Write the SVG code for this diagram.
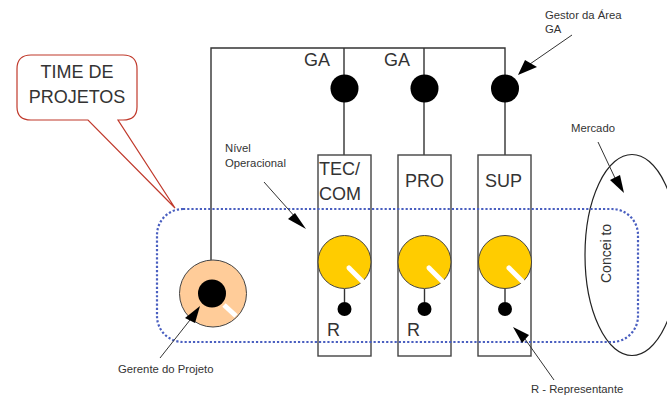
<svg xmlns="http://www.w3.org/2000/svg" width="667" height="405" viewBox="0 0 667 405">
<style>
text{font-family:"Liberation Sans",Arial,sans-serif;fill:#333}
.lg{font-size:18px}
.sm{font-size:11.300px}
.ln{fill:none;stroke:#333;stroke-width:1.400}
.ar{fill:none;stroke:#333;stroke-width:1}
.box{fill:#fff;stroke:#444;stroke-width:1.400}
.y{fill:#fc0;stroke:#444;stroke-width:1}
.k{fill:#000}
.tick{stroke:#fff;stroke-width:5;stroke-linecap:round}
.h{fill:#000}
</style>
<rect width="667" height="405" fill="#fff"/>
<g id="connectors">
<path class="ln" d="M211 260V48H505V155M344 48V155M424 48V155"/>
</g>
<g id="mercado"><ellipse cx="632" cy="255" rx="47" ry="100.500" fill="none" stroke="#222" stroke-width="1.200"/><text style="font-size:14px" transform="translate(611 283) rotate(-90)">Concei to</text></g>
<g id="tec"><rect class="box" x="318" y="155" width="53" height="201"/><text class="lg" x="319" y="175">TEC/</text><text class="lg" x="319" y="200">COM</text><path class="ln" d="M344.500 289V302"/><circle class="y" cx="344.500" cy="262" r="26.500"/><path class="tick" d="M349 268L362 281"/><circle class="k" cx="344.500" cy="309" r="7"/><text class="lg" x="327" y="336">R</text></g>
<g id="pro"><rect class="box" x="398" y="155" width="53" height="201"/><text class="lg" x="405" y="187">PRO</text><path class="ln" d="M424.500 289V302"/><circle class="y" cx="424.500" cy="262" r="26.500"/><path class="tick" d="M429 268L442 281"/><circle class="k" cx="424.500" cy="309" r="7"/><text class="lg" x="407" y="336">R</text></g>
<g id="sup"><rect class="box" x="478" y="155" width="53" height="201"/><text class="lg" x="485" y="187">SUP</text><path class="ln" d="M505 289V302"/><circle class="y" cx="505" cy="262" r="26.500"/><path class="tick" d="M509 268L522 281"/><circle class="k" cx="505" cy="309" r="7"/></g>
<g id="ga1"><circle class="k" cx="344.500" cy="88.500" r="14"/><text class="lg" x="304" y="66">GA</text></g>
<g id="ga2"><circle class="k" cx="424.500" cy="88.500" r="14"/><text class="lg" x="384" y="66">GA</text></g>
<g id="ga3"><circle class="k" cx="505" cy="88.500" r="14"/></g>
<g id="gerente"><circle cx="213" cy="293.500" r="33.500" fill="#fc9" stroke="#444" stroke-width="1"/><path d="M224 305L236 316" stroke="#fff" stroke-width="5"/><circle class="k" cx="212" cy="293.500" r="14"/></g>
<g id="time"><path d="M31 55H123Q137 55 137 69V107Q137 120 123 120H118L175 208L88 120H31Q17 120 17 107V69Q17 55 31 55Z" fill="#fff" stroke="#c0392b" stroke-width="1.200"/><text class="lg" x="77" y="78" text-anchor="middle">TIME DE</text><text class="lg" x="77" y="103" text-anchor="middle">PROJETOS</text></g>
<g id="nivel"><rect x="157" y="209" width="481" height="133" rx="26" ry="26" fill="none" stroke="#4a5fc0" stroke-width="2.200" stroke-dasharray="2.200 2"/></g>
<g id="annotations">
<text class="sm" x="225" y="152">Nível</text><text class="sm" x="225" y="167">Operacional</text>
<path class="ar" d="M264 182L296 218"/><path class="h" d="M306 229L288 219L295 213Z"/>
<text class="sm" x="545" y="19">Gestor da Área</text><text class="sm" x="545" y="33">GA</text>
<path class="ar" d="M572 35L530 64"/><path class="h" d="M518 75L525 60L537 67Z"/>
<text class="sm" x="571" y="132">Mercado</text>
<path class="ar" d="M598 142L615 178"/><path class="h" d="M624 193L610 180L620 175Z"/>
<text class="sm" x="118" y="373">Gerente do Projeto</text>
<path class="ar" d="M160 358L190 320"/><path class="h" d="M200 306L185 318L195 323Z"/>
<text class="sm" x="531" y="393">R - Representante</text>
<path class="ar" d="M554 380L525 339"/><path class="h" d="M513 327L522 343L529 335Z"/>
</g>
</svg>
